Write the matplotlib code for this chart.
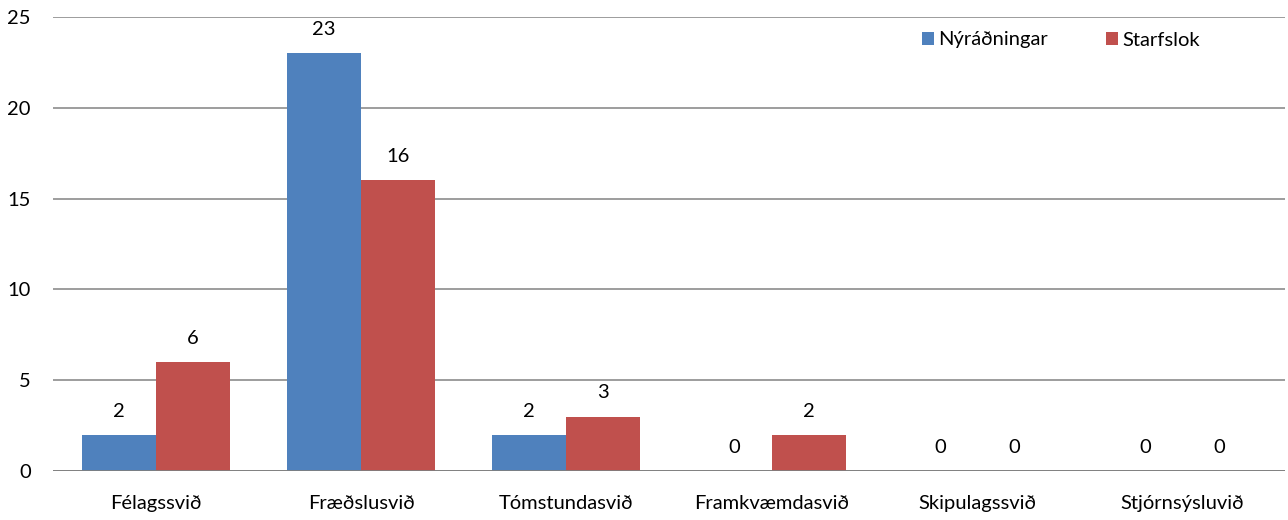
import numpy as np
import matplotlib
matplotlib.use("Agg")
import matplotlib.pyplot as plt

categories = ["Félagssvið", "Fræðslusvið", "Tómstundasvið", "Framkvæmdasvið",
              "Skipulagssvið", "Stjórnsýsluvið"]
nyradningar = [2, 23, 2, 0, 0, 0]
starfslok = [6, 16, 3, 2, 0, 0]

plt.rcParams["font.family"] = ["Lato", "DejaVu Sans"]
FS = 14.5

fig = plt.figure(figsize=(12.88, 5.2), dpi=100)
ax = fig.add_axes([53 / 1288, 49 / 520, 1232 / 1288, 454 / 520])

x = np.arange(len(categories))
w = 0.36
b1 = ax.bar(x - w / 2, nyradningar, w, color="#4F81BD", label="Nýráðningar", zorder=3)
b2 = ax.bar(x + w / 2, starfslok, w, color="#C0504D", label="Starfslok", zorder=3)

for bars in (b1, b2):
    for r in bars:
        ax.annotate(f"{int(r.get_height())}", (r.get_x() + r.get_width() / 2, r.get_height()),
                    xytext=(0, 17), textcoords="offset points", ha="center", va="center",
                    fontsize=FS)

ax.set_xlim(-0.5, len(categories) - 0.5)
ax.set_ylim(0, 25)
ax.set_yticks(range(0, 26, 5))
ax.grid(axis="y", color="#8c8c8c", linewidth=1.2, zorder=0)
ax.axhline(0, color="#7f7f7f", linewidth=2, zorder=4)
for s in ax.spines.values():
    s.set_visible(False)
ax.tick_params(axis="both", length=0, labelsize=FS)
ax.tick_params(axis="y", pad=16)
ax.tick_params(axis="x", pad=17)
ax.set_xticks(x)
ax.set_xticklabels(categories)

fig.legend(loc="center left", bbox_to_anchor=(914 / 1288, 1 - 40 / 520), ncol=2,
           frameon=False, fontsize=FS, handlelength=0.6, handleheight=0.6,
           handletextpad=0.2, columnspacing=2.9, borderaxespad=0)

fig.savefig("out.png", dpi=100)
